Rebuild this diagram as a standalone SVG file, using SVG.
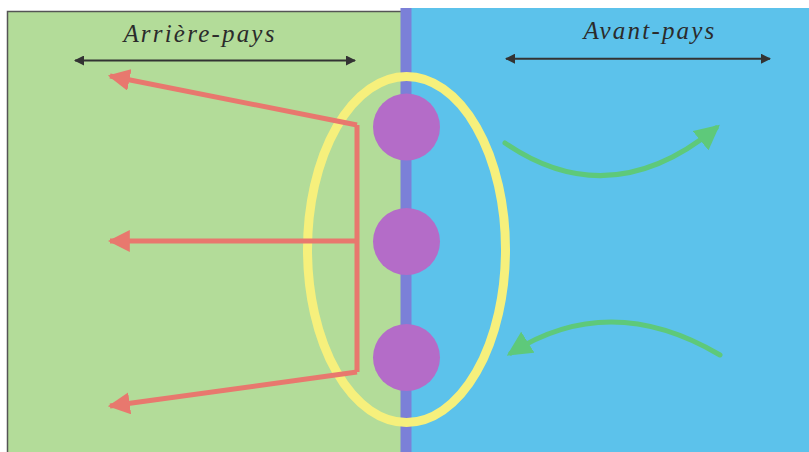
<svg xmlns="http://www.w3.org/2000/svg" width="809" height="452" viewBox="0 0 809 452">
<defs>
<style>
.label{font-family:"Liberation Serif","DejaVu Serif",serif;font-style:italic;font-size:25px;letter-spacing:2.2px;fill:#2b2b2b;text-anchor:middle}
.dim{stroke:#333;stroke-width:2;fill:none}
.red{stroke:#e8786e;stroke-width:5;fill:none;stroke-linejoin:miter}
.green{stroke:#5ec97a;stroke-width:5;fill:none;stroke-linecap:round}
.node{fill:#b46cc8}
</style>
<marker id="dimHead" viewBox="0 0 10 10" refX="9" refY="5" markerWidth="10" markerHeight="10" markerUnits="userSpaceOnUse" orient="auto-start-reverse">
<path d="M0,0 L10,5 L0,10 Z" fill="#333"/>
</marker>
<marker id="redHead" viewBox="0 0 10 10" refX="9" refY="5" markerWidth="4.4" markerHeight="4.4" orient="auto">
<path d="M0,0 L10,5 L0,10 Z" fill="#e8786e"/>
</marker>
<marker id="greenHead" viewBox="0 0 10 10" refX="8" refY="5" markerWidth="5" markerHeight="5" orient="auto">
<path d="M0,0 L10,5 L0,10 Z" fill="#5ec97a"/>
</marker>
</defs>
<rect x="0" y="0" width="809" height="452" fill="#ffffff"/>
<g id="arriere-pays">
<rect x="7" y="11" width="400" height="441" fill="#b3dc99"/>
<path d="M7.5,452 V11.5 H407" stroke="#555" stroke-width="1.5" fill="none"/>
<text class="label" x="200" y="42">Arrière-pays</text>
</g>
<g id="avant-pays">
<rect x="406" y="8" width="403" height="444" fill="#5cc2eb"/>
<text class="label" x="650" y="39">Avant-pays</text>
</g>
<g id="frontier">
<line x1="406" y1="8" x2="406" y2="452" stroke="#7b80d8" stroke-width="11"/>
</g>
<g id="zone">
<ellipse cx="406.5" cy="249.5" rx="99" ry="173" fill="none" stroke="#f6f07c" stroke-width="9"/>
</g>
<g id="node1"><circle class="node" cx="406.5" cy="127" r="33.5"/></g>
<g id="node2"><circle class="node" cx="406.5" cy="241.5" r="33.5"/></g>
<g id="node3"><circle class="node" cx="406.5" cy="357.5" r="33.5"/></g>
<g id="connectors">
<line class="dim" x1="75" y1="60.5" x2="355" y2="60.5" marker-start="url(#dimHead)" marker-end="url(#dimHead)"/>
<line class="dim" x1="506" y1="58.7" x2="770" y2="58.7" marker-start="url(#dimHead)" marker-end="url(#dimHead)"/>
<path class="red" d="M357,125 V372"/>
<path class="red" d="M357,125 L110,76" marker-end="url(#redHead)"/>
<path class="red" d="M357,241 L110,241" marker-end="url(#redHead)"/>
<path class="red" d="M357,372 L110,406" marker-end="url(#redHead)"/>
<path class="green" d="M505,143 Q610,215 716,128" marker-end="url(#greenHead)"/>
<path class="green" d="M720,355 Q610,290 511,353" marker-end="url(#greenHead)"/>
</g>
</svg>
